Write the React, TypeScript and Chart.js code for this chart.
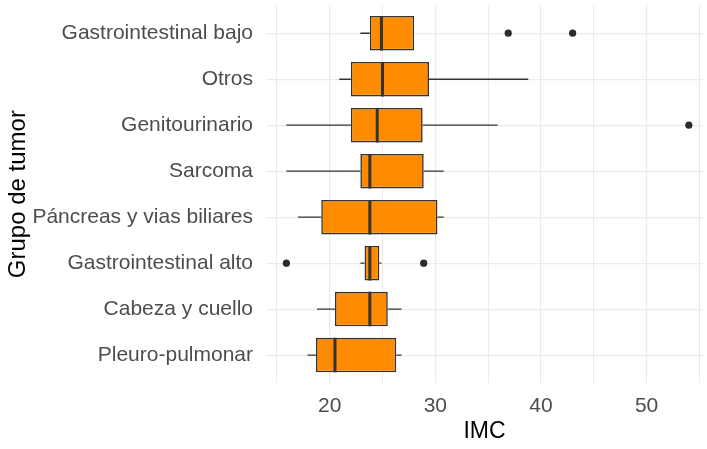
import { useEffect, useRef } from "react";
import { Chart, registerables } from "chart.js";

Chart.register(...registerables);

// Categories from top to bottom as shown
const categories = [
  "Gastrointestinal bajo",
  "Otros",
  "Genitourinario",
  "Sarcoma",
  "Páncreas y vias biliares",
  "Gastrointestinal alto",
  "Cabeza y cuello",
  "Pleuro-pulmonar",
];
const whiskerLow = [22.9, 20.9, 15.9, 15.9, 17.0, 22.9, 18.8, 17.9];
const q1 = [23.8, 22.0, 22.0, 22.9, 19.2, 23.3, 20.5, 18.7];
const median = [24.9, 25.0, 24.5, 23.8, 23.8, 23.8, 23.8, 20.5];
const q3 = [28.0, 29.4, 28.8, 28.9, 30.2, 24.7, 25.5, 26.3];
const whiskerHigh = [28.0, 38.8, 35.9, 30.8, 30.8, 24.9, 26.8, 26.8];
const outliers: number[][] = [[36.9, 43.0], [], [54.0], [], [], [15.9, 28.9], [], []];
const xTicks = [15, 20, 25, 30, 35, 40, 45, 50, 55];

export default function App() {
  const ref = useRef<HTMLCanvasElement>(null);

  useEffect(() => {
    document.body.style.margin = "0";
    const n = categories.length;
    const yOf = (i: number) => n - i;
    const half = 0.375;
    const gap = { x: null, y: null } as any;

    const boxData = categories.map((_, i) => ({ x: [q1[i], q3[i]], y: yOf(i) }));
    const whiskerData: any[] = [];
    const medianData: any[] = [];
    const outlierData: any[] = [];
    categories.forEach((_, i) => {
      const y = yOf(i);
      whiskerData.push({ x: whiskerLow[i], y }, { x: q1[i], y }, gap, { x: q3[i], y }, { x: whiskerHigh[i], y }, gap);
      medianData.push({ x: median[i], y: y - half }, { x: median[i], y: y + half }, gap);
      outliers[i].forEach((v) => outlierData.push({ x: v, y }));
    });

    const labelFont = { family: "'Liberation Sans', Arial, sans-serif", size: 21 };
    const titleFont = { family: "'Liberation Sans', Arial, sans-serif", size: 24, lineHeight: 1 };
    const noPad = (s: any) => {
      s.paddingTop = 0;
      s.paddingBottom = 0;
      s.paddingLeft = 0;
      s.paddingRight = 0;
    };

    const chart = new Chart(ref.current!, {
      type: "scatter",
      data: {
        datasets: [
          {
            type: "line",
            data: whiskerData,
            borderColor: "#333333",
            borderWidth: 1.4,
            pointRadius: 0,
            spanGaps: false,
            order: 3,
          } as any,
          {
            type: "bar",
            indexAxis: "y",
            data: boxData,
            backgroundColor: "#FF8C00",
            borderColor: "#333333",
            borderWidth: 1.6,
            borderSkipped: false,
            barPercentage: 0.75,
            categoryPercentage: 1,
            order: 2,
          } as any,
          {
            type: "line",
            data: medianData,
            borderColor: "#333333",
            borderWidth: 3,
            pointRadius: 0,
            spanGaps: false,
            order: 1,
          } as any,
          {
            type: "scatter",
            data: outlierData,
            backgroundColor: "#2b2b2b",
            borderWidth: 0,
            pointRadius: 3.6,
            order: 0,
          } as any,
        ],
      },
      options: {
        responsive: false,
        animation: false,
        devicePixelRatio: 1,
        layout: { padding: { top: 5.6, right: 0, left: 0, bottom: 0 } },
        plugins: { legend: { display: false }, tooltip: { enabled: false } },
        scales: {
          x: {
            type: "linear",
            min: 13.97,
            max: 55.34,
            offset: false,
            afterBuildTicks: (s: any) => {
              s.ticks = xTicks.map((v) => ({ value: v }));
            },
            afterFit: (s: any) => {
              s.height = 66.3;
              noPad(s);
            },
            ticks: {
              autoSkip: false,
              maxRotation: 0,
              color: "#4D4D4D",
              font: labelFont,
              padding: 11,
              callback: (v: any) => (v % 10 === 0 ? String(v) : ""),
            },
            grid: {
              color: "#EBEBEB",
              lineWidth: (c: any) => (c.tick && c.tick.value % 10 === 0 ? 1.2 : 1),
              drawTicks: false,
              offset: false,
            },
            border: { display: false },
            title: {
              display: true,
              text: "IMC",
              color: "#000000",
              font: { ...titleFont, size: 23 },
              padding: { top: 0, bottom: 6 },
            },
          },
          y: {
            type: "linear",
            min: 0.4,
            max: 8.6,
            offset: false,
            afterBuildTicks: (s: any) => {
              s.ticks = categories.map((_, i) => ({ value: yOf(i) }));
            },
            afterFit: (s: any) => {
              s.width = 266;
              noPad(s);
            },
            ticks: {
              autoSkip: false,
              color: "#4D4D4D",
              font: labelFont,
              padding: 13,
              callback: (v: any) => categories[n - v],
            },
            grid: { color: "#EBEBEB", lineWidth: 1.2, drawTicks: false, offset: false },
            border: { display: false },
            title: {
              display: true,
              text: "Grupo de tumor",
              color: "#000000",
              font: titleFont,
              padding: { top: 6, bottom: 0 },
            },
          },
        },
      } as any,
    });
    return () => chart.destroy();
  }, []);

  return (
    <div style={{ position: "absolute", left: 0, top: 0, width: 707, height: 449, background: "#ffffff" }}>
      <canvas ref={ref} width={707} height={449} />
    </div>
  );
}
